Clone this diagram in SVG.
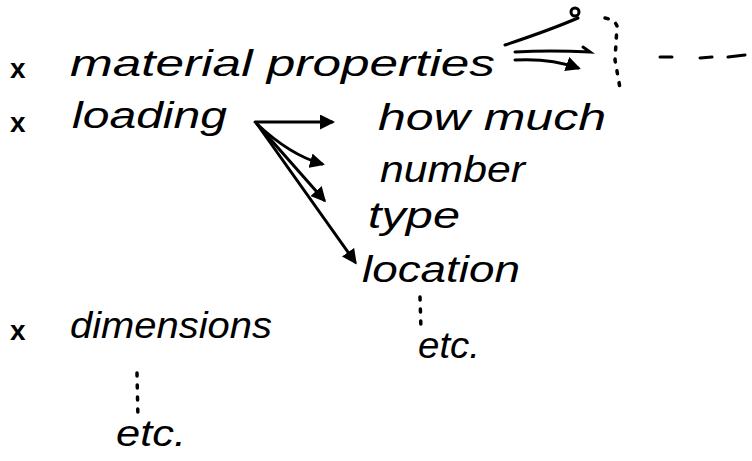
<svg xmlns="http://www.w3.org/2000/svg" width="752" height="461" viewBox="0 0 752 461">
<style>
.t{font-family:"Liberation Sans","DejaVu Sans",sans-serif;font-style:italic;font-size:36px;fill:#000}
.b{font-family:"Liberation Sans",sans-serif;font-size:28px;font-weight:bold;fill:#000}
.ln{stroke:#000;stroke-width:3;fill:none;stroke-linecap:round}
.dot{stroke:#000;stroke-width:3.5;fill:none;stroke-linecap:round;stroke-dasharray:3 9}
</style>
<defs>
<marker id="ah" markerWidth="5" markerHeight="5" refX="4" refY="2.5" orient="auto" markerUnits="strokeWidth">
<path d="M0,0 L5,2.5 L0,5 Z" fill="#000"/>
</marker>
</defs>
<rect width="752" height="461" fill="#fff"/>
<g id="material">
<text class="b" x="10" y="78">x</text>
<text class="t" x="70" y="76" textLength="425" lengthAdjust="spacingAndGlyphs">material properties</text>
</g>
<g id="loading">
<text class="b" x="10" y="132">x</text>
<text class="t" x="72" y="128" textLength="155" lengthAdjust="spacingAndGlyphs">loading</text>
</g>
<g id="howmuch"><text class="t" x="378" y="130" textLength="228" lengthAdjust="spacingAndGlyphs">how much</text></g>
<g id="number"><text class="t" x="380" y="182" textLength="145" lengthAdjust="spacingAndGlyphs">number</text></g>
<g id="type"><text class="t" x="368" y="228" textLength="92" lengthAdjust="spacingAndGlyphs">type</text></g>
<g id="location"><text class="t" x="362" y="282" textLength="158" lengthAdjust="spacingAndGlyphs">location</text></g>
<g id="etc1"><text class="t" x="418" y="358" textLength="62" lengthAdjust="spacingAndGlyphs">etc.</text></g>
<g id="dimensions">
<text class="b" x="10" y="340">x</text>
<text class="t" x="70" y="338" textLength="202" lengthAdjust="spacingAndGlyphs">dimensions</text>
</g>
<g id="etc2"><text class="t" x="116" y="446" textLength="70" lengthAdjust="spacingAndGlyphs">etc.</text></g>
<g id="connectors">
<path class="ln" d="M255,122 L332,122" marker-end="url(#ah)"/>
<path class="ln" d="M257,124 Q290,155 322,164" marker-end="url(#ah)"/>
<path class="ln" d="M257,124 L324,200" marker-end="url(#ah)"/>
<path class="ln" d="M257,124 L355,262" marker-end="url(#ah)"/>
<path class="ln" d="M505,45 Q550,30 578,18"/>
<circle cx="575" cy="12" r="4" fill="none" stroke="#000" stroke-width="3"/>
<path class="ln" d="M515,52 Q550,50 590,52 L583,47"/>
<path class="ln" d="M515,60 Q550,58 578,68" marker-end="url(#ah)"/>
<path class="dot" d="M605,18 Q615,20 617,26 L615,60 L620,88"/>
<path class="ln" d="M660,57 L672,57 M700,58 L712,57 M728,57 L745,55"/>
<path class="dot" d="M420,297 L421,330"/>
<path class="dot" d="M137,373 L138,420"/>
</g>
</svg>
